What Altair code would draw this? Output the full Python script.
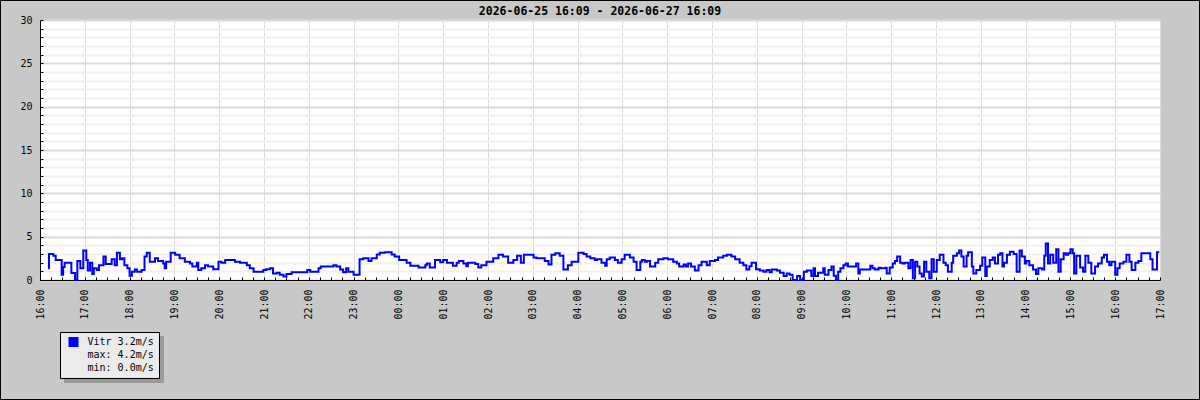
import altair as alt
import pandas as pd

# ---- data: minutes after 2026-06-25 16:00 and wind speed (m/s) ----
minutes = [11, 12, 18, 21, 29, 31, 33, 42, 47, 50, 54, 58, 62, 64, 67, 70, 72, 76, 79, 85,
           88, 96, 100, 103, 107, 110, 113, 117, 120, 123, 127, 130, 136, 140, 143, 147, 154, 158, 165, 167,
           169, 175, 181, 187, 194, 201, 204, 210, 212, 216, 221, 225, 232, 239, 243, 248, 261, 268, 277, 281,
           286, 299, 303, 308, 312, 317, 321, 326, 330, 337, 358, 362, 373, 376, 393, 397, 402, 406, 410, 413,
           420, 428, 433, 440, 444, 451, 455, 462, 471, 475, 481, 491, 496, 507, 516, 518, 522, 529, 536, 540,
           545, 553, 558, 561, 567, 571, 573, 583, 587, 591, 598, 607, 614, 620, 627, 634, 639, 644, 648, 661,
           665, 676, 681, 685, 690, 696, 701, 707, 712, 721, 728, 732, 737, 743, 746, 752, 757, 759, 763, 770,
           774, 779, 783, 790, 795, 799, 804, 806, 810, 813, 817, 824, 828, 835, 841, 848, 853, 856, 862, 865,
           868, 872, 877, 882, 886, 893, 897, 904, 908, 915, 920, 926, 931, 937, 942, 946, 950, 953, 959, 964,
           969, 973, 977, 980, 987, 991, 996, 1000, 1004, 1008, 1014, 1018, 1023, 1027, 1033, 1036, 1038, 1042, 1049, 1051,
           1056, 1060, 1063, 1066, 1069, 1072, 1076, 1079, 1082, 1093, 1096, 1098, 1112, 1115, 1118, 1123, 1126, 1132, 1134, 1138,
           1142, 1145, 1148, 1152, 1155, 1158, 1163, 1166, 1169, 1172, 1175, 1178, 1181, 1184, 1187, 1191, 1194, 1197, 1201, 1205,
           1210, 1213, 1216, 1221, 1223, 1228, 1231, 1234, 1237, 1241, 1243, 1248, 1250, 1254, 1259, 1262, 1266, 1268, 1272, 1276,
           1279, 1283, 1286, 1289, 1291, 1295, 1299, 1304, 1308, 1312, 1315, 1319, 1321, 1325, 1330, 1334, 1337, 1342, 1345, 1347,
           1350, 1353, 1357, 1361, 1364, 1367, 1371, 1374, 1377, 1380, 1383, 1385, 1388, 1393, 1397, 1400, 1404, 1408, 1413, 1417,
           1422, 1425, 1429, 1432, 1435, 1440, 1443, 1446, 1451, 1455, 1459, 1462, 1467, 1471, 1475, 1487, 1490, 1496, 1499]
speed = [1.35, 3.0, 2.8, 2.3, 0.6, 1.5, 2.0, 0.8, 0.0, 2.2, 1.35, 3.4, 2.3, 1.1, 2.0, 0.7, 1.35, 1.15, 1.7, 2.7,
         1.85, 2.4, 1.7, 3.15, 2.4, 2.5, 1.7, 1.35, 0.5, 0.95, 1.2, 0.95, 1.15, 2.7, 3.15, 2.1, 2.5, 2.2, 1.9, 1.35,
         2.1, 3.15, 2.9, 2.5, 2.1, 1.9, 1.55, 2.0, 1.15, 1.35, 1.7, 1.55, 1.25, 2.1, 2.0, 2.3, 2.1, 2.0, 1.7, 1.35,
         0.95, 1.15, 1.25, 1.35, 0.75, 0.85, 0.6, 0.4, 0.7, 0.9, 1.15, 0.95, 1.35, 1.55, 1.7, 1.55, 1.2, 0.9, 1.35, 0.95,
         0.6, 2.4, 2.5, 2.2, 2.5, 2.95, 3.15, 3.2, 2.95, 2.7, 2.3, 2.0, 1.65, 1.45, 1.7, 1.9, 1.45, 2.3, 2.05, 2.3,
         2.0, 1.65, 2.0, 2.2, 1.9, 1.6, 2.0, 1.85, 1.45, 1.7, 2.1, 2.5, 2.9, 2.7, 2.0, 2.3, 2.8, 2.0, 2.9, 2.6,
         2.5, 2.2, 1.8, 2.9, 3.1, 2.8, 1.2, 1.7, 2.1, 3.15, 3.0, 2.7, 2.5, 2.3, 2.4, 2.0, 1.65, 2.4, 2.6, 2.3,
         2.0, 2.4, 2.9, 2.6, 2.1, 1.15, 2.1, 2.3, 2.1, 2.2, 1.55, 2.0, 2.4, 2.5, 2.4, 2.1, 1.9, 1.55, 1.8, 1.55,
         1.9, 1.55, 1.1, 1.7, 2.1, 1.7, 2.2, 2.3, 2.6, 2.8, 2.9, 2.7, 2.4, 2.0, 1.7, 1.2, 1.6, 2.0, 1.25, 1.1,
         0.95, 1.15, 0.9, 1.2, 1.1, 0.85, 0.45, 0.75, 0.6, 0.0, 0.45, 0.0, 0.95, 1.1, 0.45, 1.35, 0.45, 0.85, 1.35, 0.6,
         1.15, 1.55, 0.5, 0.0, 0.95, 1.35, 1.7, 1.9, 1.55, 1.9, 0.75, 1.2, 1.65, 1.35, 1.2, 1.4, 1.35, 1.4, 0.75, 1.45,
         1.9, 2.2, 2.7, 2.0, 1.9, 2.0, 1.35, 2.3, 0.2, 2.1, 1.55, 0.75, 0.4, 2.1, 0.95, 0.2, 2.4, 0.95, 2.3, 2.9,
         2.0, 1.7, 0.95, 2.0, 2.8, 3.1, 3.4, 2.7, 1.55, 2.8, 3.2, 1.55, 0.75, 1.15, 1.65, 2.6, 0.45, 1.55, 2.3, 2.6,
         1.9, 2.9, 3.1, 1.55, 2.0, 2.9, 3.25, 3.0, 0.95, 3.4, 2.7, 1.9, 2.2, 1.7, 1.2, 0.7, 1.35, 1.2, 2.8, 4.2,
         1.9, 2.9, 2.0, 3.55, 0.95, 2.4, 3.1, 2.9, 3.1, 3.55, 3.1, 0.75, 2.8, 1.45, 0.95, 2.8, 2.0, 0.75, 1.55, 1.9,
         2.6, 2.9, 2.1, 1.7, 2.1, 0.6, 1.35, 1.9, 2.1, 2.9, 2.1, 1.15, 2.0, 2.2, 3.1, 2.4, 1.2, 3.2, 3.2]

title_text = "2026-06-25 16:09 - 2026-06-27 16:09"
series_name = "Vitr"
unit = "m/s"
start_hour = 16
x_end = 25 * 60                         # axis runs 16:00 .. 17:00 next day
hour_ticks = list(range(0, x_end + 1, 60))
quarter_ticks = list(range(0, x_end + 1, 15))
y_tick_values = list(range(0, 31))
MONO = "DejaVu Sans Mono"

df = pd.DataFrame({"minute": minutes, "speed": speed})

legend_labels = [
    f"{series_name} {speed[-1]:.1f}{unit}",
    f"max: {max(speed):.1f}{unit}",
    f"min: {min(speed):.1f}{unit}",
]
legend_df = pd.DataFrame({"label": legend_labels})
one = pd.DataFrame({"k": [0]})

hour_label = (f"(({start_hour} + floor(datum.value / 60)) % 24 < 10 ? '0' : '') + "
              f"(({start_hour} + floor(datum.value / 60)) % 24) + ':00'")

x_scale = alt.Scale(domain=[0, x_end], nice=False)
y_scale = alt.Scale(domain=[0, 30], nice=False)

line = alt.Chart(df).mark_line(interpolate="step-after", color="#0000ff", strokeWidth=2).encode(
    x=alt.X("minute:Q", scale=x_scale, axis=alt.Axis(
        title=None, values=hour_ticks, labelExpr=hour_label,
        labelAngle=270, labelPadding=9, ticks=False, grid=True, gridColor="#dcdcdc",
        domainColor="black", labelFlush=False, labelOverlap=False)),
    y=alt.Y("speed:Q", scale=y_scale, axis=alt.Axis(
        title=None, values=y_tick_values,
        labelExpr="datum.value % 5 == 0 ? datum.label : ''",
        ticks=False, labelPadding=8, grid=True,
        gridColor={"condition": {"test": "datum.value % 5 == 0", "value": "#d9d9d9"}, "value": "#f1f1f1"},
        gridWidth=2, domainColor="black", labelOverlap=False)),
)

# inward minor ticks (an extra, label-less axis pair pulled inside the plot)
tick_layer = alt.Chart(df).mark_line(strokeOpacity=0).encode(
    x=alt.X("minute:Q", scale=x_scale, axis=alt.Axis(
        title=None, orient="bottom", offset=-3, tickSize=3, tickColor="black",
        values=quarter_ticks, labels=False, domain=False, grid=False)),
    y=alt.Y("speed:Q", scale=y_scale, axis=alt.Axis(
        title=None, orient="left", offset=-3, tickSize=3, tickColor="black",
        values=y_tick_values, labels=False, domain=False, grid=False)),
)

legend_layer = alt.Chart(legend_df).mark_square(filled=True, opacity=0, size=100).encode(
    color=alt.Color("label:N",
                    scale=alt.Scale(domain=legend_labels, range=["#0000ff", "#ebebeb", "#ebebeb"]),
                    legend=alt.Legend(title=None, orient="none", legendX=20, legendY=312,
                                      symbolType="square", symbolSize=100, symbolOpacity=1,
                                      symbolStrokeWidth=0, labelOffset=9, rowPadding=3,
                                      padding=5, symbolOffset=3.5,
                                      fillColor="#ebebeb", strokeColor="black",
                                      labelFont=MONO, labelFontSize=10, labelColor="black"))
)

shadow = alt.Chart(one).mark_rect(color="#9a9a9a").encode(
    x=alt.value(24), x2=alt.value(124), y=alt.value(316), y2=alt.value(363))

border = alt.Chart(one).mark_rect(fillOpacity=0, stroke="black", strokeWidth=1).encode(
    x=alt.value(-39.5), x2=alt.value(1159.5), y=alt.value(-19.5), y2=alt.value(379.5))

chart = alt.layer(border, shadow, line, tick_layer, legend_layer).resolve_axis(
    x="independent", y="independent"
).properties(
    width=1120, height=260,
    padding={"left": 40, "top": 20, "right": 40, "bottom": 120},
    autosize=alt.AutoSizeParams(type="none"),
    background="#c8c8c8",
    view=alt.ViewBackground(fill="white", stroke="transparent"),
    title=alt.Title(title_text, font=MONO, fontSize=11.5, fontWeight="bold", color="black",
                    anchor="middle", frame="group", offset=3, dy=20),
).configure_view(fill="white", stroke="transparent").configure_axis(
    labelFont=MONO, labelFontSize=10, labelColor="black"
)

chart.save("out.html", embed_options={"renderer": "svg", "actions": False})
